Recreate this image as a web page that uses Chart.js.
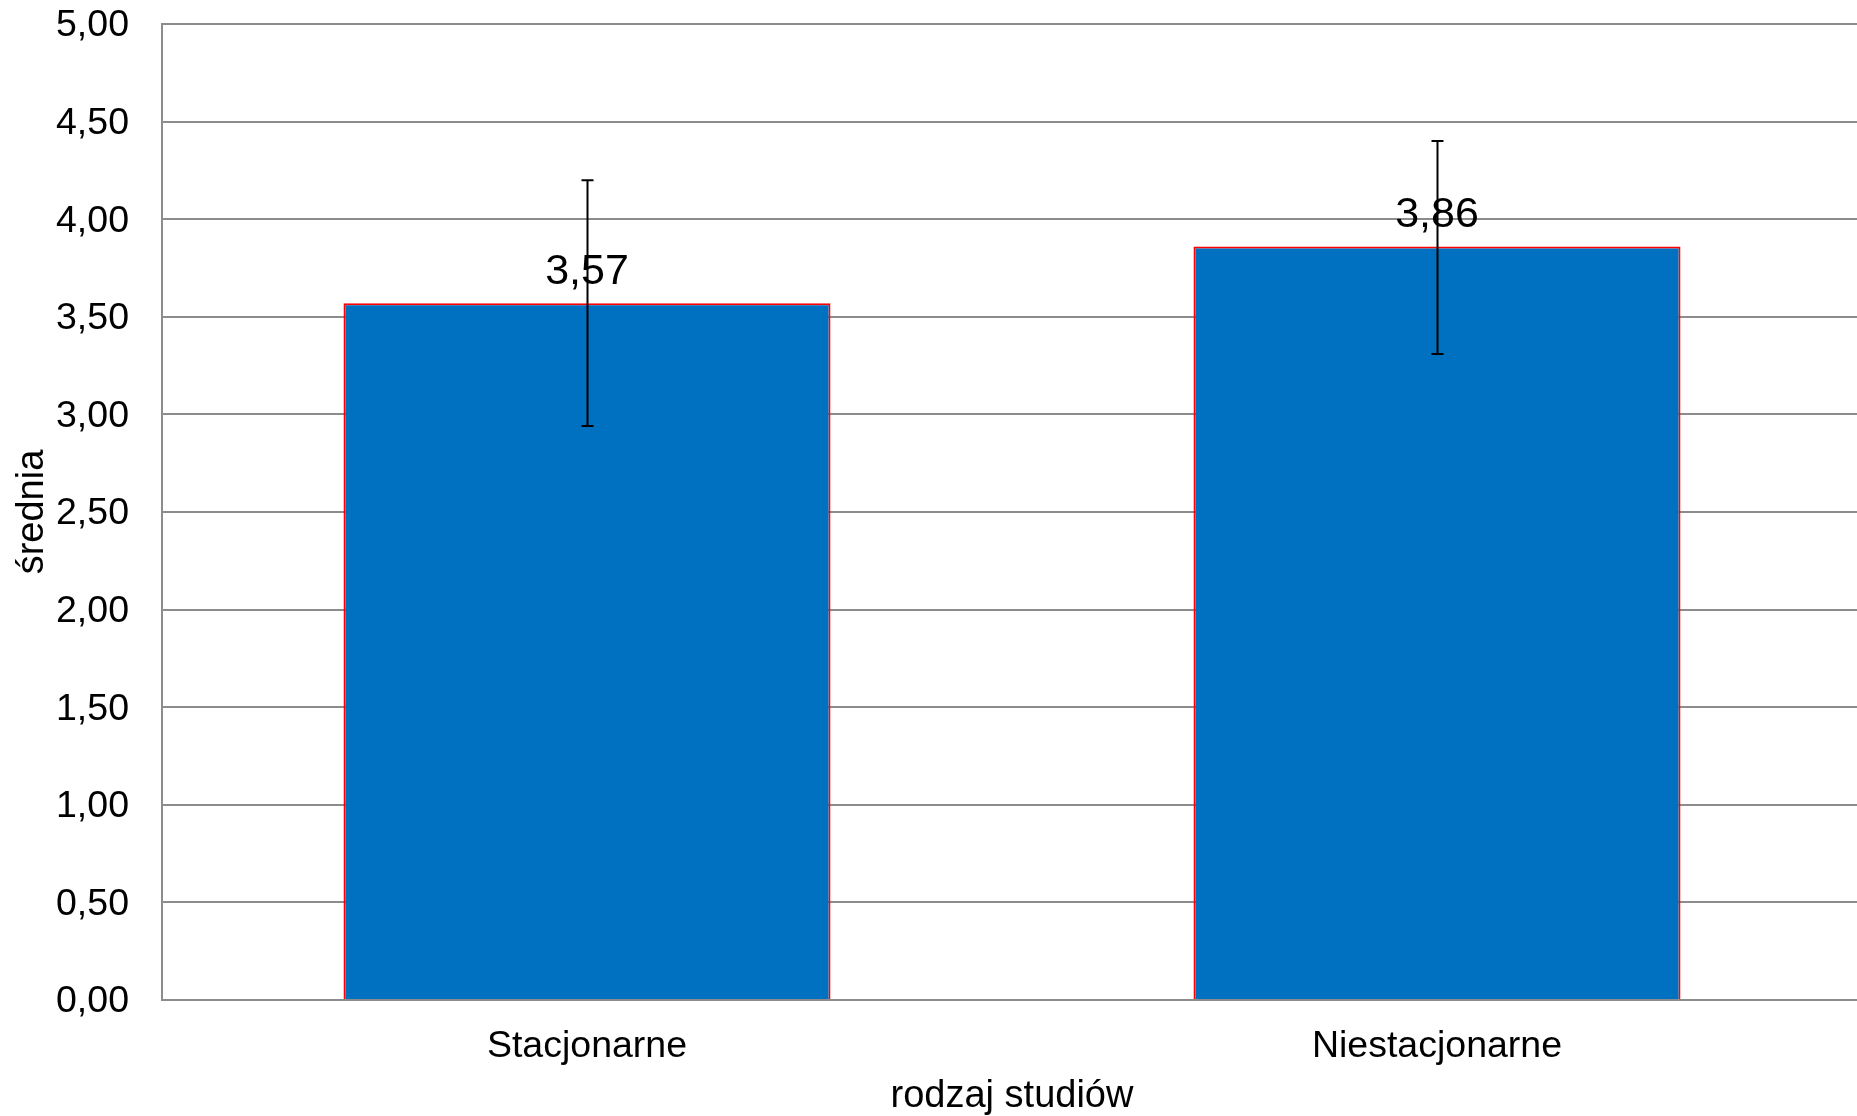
<!DOCTYPE html>
<html lang="pl">
<head>
  <meta charset="UTF-8" />
  <title>średnia wg rodzaju studiów</title>
  <script src="https://cdn.jsdelivr.net/npm/chart.js"></script>
  <style>
    html, body { margin: 0; padding: 0; background: #fff; overflow: hidden; }
    #wrap { width: 1862px; height: 1116px; }
  </style>
</head>
<body>
  <div id="wrap"><canvas id="chart"></canvas></div>
  <script>
    const categories = ['Stacjonarne', 'Niestacjonarne'];
    const means = [3.57, 3.86];
    const errLow = [2.94, 3.31];
    const errHigh = [4.20, 4.40];
    const yTicks = [0, 0.5, 1, 1.5, 2, 2.5, 3, 3.5, 4, 4.5, 5];

    const fontName = "'Liberation Sans', Arial, sans-serif";
    const fmt = v => v.toFixed(2).replace('.', ',');

    // error bars + value labels drawn on top of the bars
    const extras = {
      id: 'extras',
      afterDatasetsDraw(chart) {
        const ctx = chart.ctx;
        const y = chart.scales.y;
        const meta = chart.getDatasetMeta(0);
        ctx.save();
        meta.data.forEach((bar, i) => {
          const x = Math.round(bar.x) + 0.5;
          const top = y.getPixelForValue(errHigh[i]);
          const bot = y.getPixelForValue(errLow[i]);
          ctx.strokeStyle = '#000';
          ctx.lineWidth = 2;
          ctx.beginPath();
          ctx.moveTo(x, top); ctx.lineTo(x, bot);
          ctx.moveTo(x - 6, top); ctx.lineTo(x + 6, top);
          ctx.moveTo(x - 6, bot); ctx.lineTo(x + 6, bot);
          ctx.stroke();

          ctx.fillStyle = '#000';
          ctx.font = '43px ' + fontName;
          ctx.textAlign = 'center';
          ctx.textBaseline = 'middle';
          ctx.fillText(fmt(means[i]), bar.x, bar.y - 31);
        });
        ctx.restore();
      }
    };

    new Chart(document.getElementById('chart'), {
      type: 'bar',
      data: {
        labels: categories,
        datasets: [{
          data: means,
          backgroundColor: '#0070C0',
          borderColor: '#ff0000',
          borderWidth: 2,
          borderSkipped: 'bottom',
          categoryPercentage: 1,
          barPercentage: 0.573
        }]
      },
      options: {
        responsive: true,
        maintainAspectRatio: false,
        animation: false,
        layout: { padding: { top: 24, right: 0, left: 0, bottom: 0 } },
        plugins: {
          legend: { display: false },
          tooltip: { enabled: false }
        },
        scales: {
          x: {
            grid: { display: false },
            border: { display: true, color: '#8c8c8c', width: 2 },
            ticks: { color: '#000', font: { family: fontName, size: 37.5 }, padding: 16 },
            title: {
              display: true, text: 'rodzaj studiów', color: '#000',
              font: { family: fontName, size: 38, lineHeight: 1.0 }, padding: { top: 0, bottom: 0 }
            },
            afterFit(scale) {
              scale.height = 116;
              scale.paddingLeft = 0;
              scale.paddingRight = 0;
            }
          },
          y: {
            min: 0,
            max: 5,
            afterBuildTicks(scale) { scale.ticks = yTicks.map(v => ({ value: v })); },
            grid: { color: '#8c8c8c', lineWidth: 2, drawTicks: false },
            border: { display: true, color: '#8c8c8c', width: 2 },
            ticks: {
              color: '#000', padding: 33, labelOffset: 2,
              font: { family: fontName, size: 37.5 },
              callback: v => fmt(v)
            },
            title: {
              display: true, text: 'średnia', color: '#000',
              font: { family: fontName, size: 38 }, padding: { top: 10, bottom: 0 }
            },
            afterFit(scale) {
              scale.width = 162;
              scale.paddingTop = 0;
              scale.paddingBottom = 0;
            }
          }
        }
      },
      plugins: [extras]
    });
  </script>
</body>
</html>
